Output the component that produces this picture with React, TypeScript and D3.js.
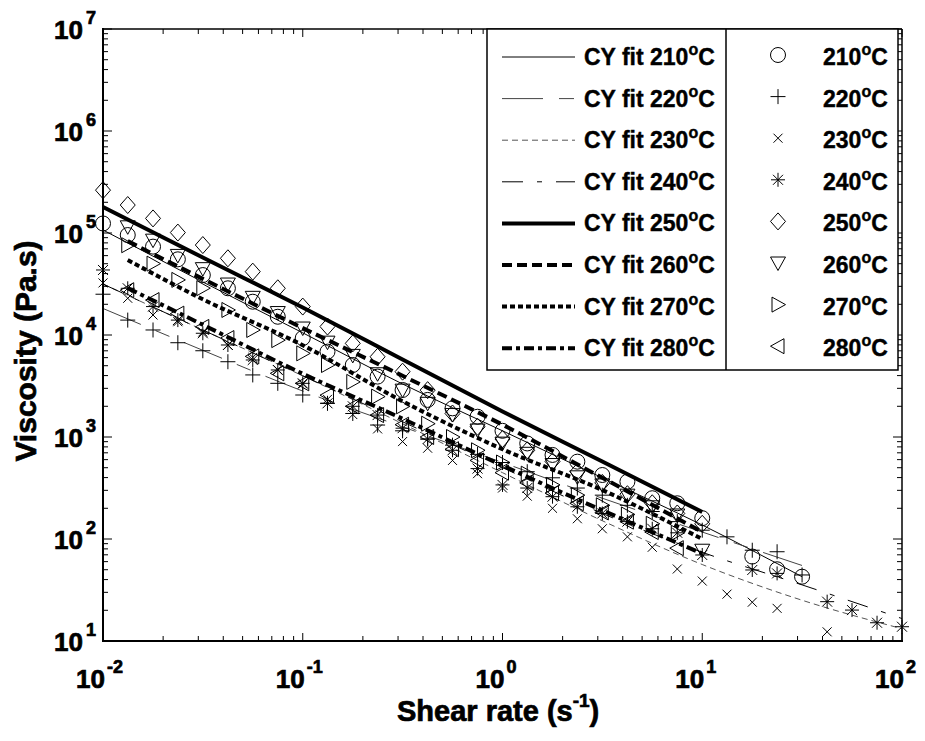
import React from "react";
import * as d3 from "d3";

// Shear rates (s^-1) of the measured points
const shearRates = [0.01, 0.0133, 0.0178, 0.0237, 0.0316, 0.0422, 0.0562, 0.075, 0.1, 0.133, 0.178, 0.237, 0.316, 0.422, 0.562, 0.75, 1, 1.33, 1.78, 2.37, 3.16, 4.22, 5.62, 7.5, 10, 13.3, 17.8, 23.7, 31.6, 42.2, 56.2, 75, 100];

// Measured viscosities (Pa.s), aligned with shearRates (null = no point)
const eta210 = [124000, 95500, 73500, 55200, 38700, 28700, 21200, 15100, 9330, 6870, 5080, 3910, 2890, 2310, 1910, 1580, 1150, 865, 667, 573, 424, 365, 251, 224, 160, null, 67.3, 50.5, 42.7, null, null, null, null];
const eta220 = [25100, 14000, 11200, 8400, 7010, 5470, 4060, 3360, 2580, 2140, 1700, 1310, 1150, 955, 832, 676, 562, 457, 398, 316, 269, 214, 186, 148, 122, 105, 77.6, 75, 44.4, null, null, null, null];
const eta230 = [32400, 22900, 15700, 13500, 10700, 7940, 6030, 4570, 3310, 2340, 1660, 1200, 902, 776, 589, 437, 316, 263, 200, 158, 126, 105, 83, 50.8, 38.7, 28.8, 24, 20.9, null, 12.3, null, null, null];
const eta240 = [43400, 28700, 19000, 14000, 10400, 7980, 5690, 4540, 3360, 2140, 2000, 1640, 1220, 955, 741, 490, 339, 316, 260, 207, 178, 148, 126, 115, 69.7, null, 49.7, 46, null, 24.3, 20.1, 15.1, 13.8];
const eta250 = [263000, 188000, 139000, 101000, 76200, 56500, 41800, 28700, 19000, 12100, 8280, 6120, 4370, 2880, 1700, 1260, 955, 741, 575, 457, 355, 275, 224, 178, 141, null, null, null, null, null, null, null, null];
const eta260 = [null, 115000, 85100, 60300, 44700, 31600, 23400, 16600, 11700, 8510, 6310, 4170, 2880, 2140, 1660, 1170, 871, 692, 537, 407, 339, 269, 207, 172, 77.6, null, null, null, null, null, null, null, null];
const eta270 = [null, 75900, 50100, 34700, 28800, 17600, 11200, 8910, 6610, 5080, 3470, 2490, 2000, 1350, 1000, 741, 562, 437, 339, 269, 214, 174, 141, 115, null, null, null, null, null, null, null, null, null];
const eta280 = [null, 27500, 22000, 16200, 12000, 9330, 6170, 4210, 3360, 2570, 2000, 1640, 1320, 1000, 759, 589, 447, 355, 282, 224, 182, 148, 117, 81.3, null, null, null, null, null, null, null, null, null];

// Cross-Yasuda (CY) fit curves
const fitShear = [0.01, 0.0316, 0.1, 0.316, 1, 3.16, 10, 31.6, 100];
const fitShearB = [0.0133, 0.0316, 0.1, 0.316, 1, 3.16, 10];
const fit210 = [107000, 33100, 10500, 3310, 1150, 398, 137, 42.7];
const fit220 = [18200, 7080, 2820, 1260, 562, 251, 117, 55];
const fit230 = [31600, 11200, 3980, 1350, 447, 151, 56.2, 25.1, 13.2];
const fit240 = [31600, 11200, 3980, 1410, 501, 178, 74.1, 35.5, 16.6];
const fit250 = [180000, 57500, 18600, 5750, 1780, 575, 184];
const fit260 = [83200, 35500, 11700, 3980, 1320, 398, 117];
const fit270 = [54300, 22400, 7940, 2240, 759, 302, 100];
const fit280 = [28800, 12600, 4170, 1510, 525, 191, 72];

const legendTemps = ["210", "220", "230", "240", "250", "260", "270", "280"];
const xTickExps = [-2, -1, 0, 1, 2];
const yTickExps = [1, 2, 3, 4, 5, 6, 7];

const W = 925, H = 741;
const L = 103, R = 902, T = 29, B = 641;
const FONT = "'Liberation Sans', Arial, Helvetica, sans-serif";

type LineStyle = { w: number; dash?: string; color: string };
const lineStyles: LineStyle[] = [
  { w: 1, color: "#000" },
  { w: 1, dash: "41 16 15 16", color: "#444" },
  { w: 1, dash: "6 4", color: "#555" },
  { w: 1, dash: "21 14 5 14", color: "#000" },
  { w: 4, color: "#000" },
  { w: 4, dash: "10 5", color: "#000" },
  { w: 4, dash: "5 3", color: "#000" },
  { w: 4, dash: "10 4 4 4", color: "#000" },
];

function Marker({ type, x, y }: { type: number; x: number; y: number }) {
  const s = { fill: "none", stroke: "#000", strokeWidth: 1 } as const;
  const t = `translate(${x},${y})`;
  switch (type) {
    case 0:
      return <circle cx={x} cy={y} r={7.5} {...s} />;
    case 1:
      return <path transform={t} d="M-7.5,0H7.5M0,-7.5V7.5" {...s} />;
    case 2:
      return <path transform={t} d="M-4.5,-4.5L4.5,4.5M-4.5,4.5L4.5,-4.5" {...s} />;
    case 3:
      return <path transform={t} d="M-7,0H7M0,-7V7M-5,-5L5,5M-5,5L5,-5" {...s} />;
    case 4:
      return <path transform={t} d="M0,-8.5L7.5,0L0,8.5L-7.5,0Z" {...s} />;
    case 5:
      return <path transform={t} d="M-7.5,-6L7.5,-6L0,7.5Z" {...s} />;
    case 6:
      return <path transform={t} d="M-6,-7.5L7.5,0L-6,7.5Z" {...s} />;
    default:
      return <path transform={t} d="M6,-7.5L-7.5,0L6,7.5Z" {...s} />;
  }
}

export default function App() {
  const x = d3.scaleLog().domain([0.01, 100]).range([L, R]);
  const y = d3.scaleLog().domain([10, 1e7]).range([B, T]);
  const line = d3
    .line<[number, number]>()
    .x((d) => x(d[0]))
    .y((d) => y(d[1]))
    .curve(d3.curveMonotoneX);

  const series = [eta210, eta220, eta230, eta240, eta250, eta260, eta270, eta280];
  const fits: [number[], number[]][] = [
    [fitShear, fit210],
    [fitShear, fit220],
    [fitShear, fit230],
    [fitShear, fit240],
    [fitShear, fit250],
    [fitShearB, fit260],
    [fitShearB, fit270],
    [fitShearB, fit280],
  ];

  const xMinor: number[] = [];
  for (let e = -2; e < 2; e++) for (let m = 2; m <= 9; m++) xMinor.push(m * Math.pow(10, e));
  const yMinor: number[] = [];
  for (let e = 1; e < 7; e++) for (let m = 2; m <= 9; m++) yMinor.push(m * Math.pow(10, e));

  const legX = 487, legR = 898, legDiv = 726, legT = 29, legB = 370;
  const rowY = (i: number) => 57 + i * 41.6;
  const heavy = { fontWeight: "bold", stroke: "#000", strokeWidth: 0.7 } as const;
  const heavyL = { fontWeight: "bold", stroke: "#000", strokeWidth: 0.4 } as const;

  return (
    <svg width={W} height={H} style={{ position: "absolute", left: 0, top: 0, background: "#fff" }} fontFamily={FONT}>
      <rect x={0} y={0} width={W} height={H} fill="#fff" />
      {/* fits */}
      {fits.map(([xs, vs], i) => (
        <path
          key={"f" + i}
          d={line(vs.map((v, j) => [xs[j], v] as [number, number])) || ""}
          fill="none"
          stroke={lineStyles[i].color}
          strokeWidth={lineStyles[i].w}
          strokeDasharray={lineStyles[i].dash}
        />
      ))}
      {/* markers */}
      {series.map((vals, i) =>
        vals.map((v, j) =>
          v == null ? null : <Marker key={`m${i}-${j}`} type={i} x={x(shearRates[j])} y={y(v)} />
        )
      )}
      {/* ticks */}
      {xTickExps.map((e) => {
        const px = x(Math.pow(10, e));
        return (
          <g key={"xt" + e}>
            <line x1={px} x2={px} y1={B} y2={B - 8} stroke="#000" />
            <line x1={px} x2={px} y1={T} y2={T + 8} stroke="#000" />
          </g>
        );
      })}
      {xMinor.map((v, i) => (
        <g key={"xm" + i}>
          <line x1={x(v)} x2={x(v)} y1={B} y2={B - 5} stroke="#000" />
          <line x1={x(v)} x2={x(v)} y1={T} y2={T + 5} stroke="#000" />
        </g>
      ))}
      {yTickExps.map((e) => {
        const py = y(Math.pow(10, e));
        return (
          <g key={"yt" + e}>
            <line x1={L} x2={L + 9} y1={py} y2={py} stroke="#000" />
            <line x1={R} x2={R - 9} y1={py} y2={py} stroke="#000" />
          </g>
        );
      })}
      {yMinor.map((v, i) => (
        <g key={"ym" + i}>
          <line x1={L} x2={L + 5} y1={y(v)} y2={y(v)} stroke="#000" />
          <line x1={R} x2={R - 5} y1={y(v)} y2={y(v)} stroke="#000" />
        </g>
      ))}
      {/* frame */}
      <line x1={L} x2={R} y1={T} y2={T} stroke="#000" strokeWidth={1.5} />
      <line x1={R} x2={R} y1={T} y2={B} stroke="#000" strokeWidth={1.5} />
      <line x1={L} x2={L} y1={T - 1} y2={B + 1} stroke="#000" strokeWidth={2} />
      <line x1={L - 1} x2={R + 1} y1={B} y2={B} stroke="#000" strokeWidth={2} />

      {/* x tick labels */}
      {xTickExps.map((e) => {
        const px = x(Math.pow(10, e));
        return (
          <g key={"xg" + e}>
            <text x={px + 2} y={688} {...heavy} fontSize={26} textAnchor="end">10</text>
            <text x={px + 4} y={673} {...heavy} fontSize={18}>{e}</text>
          </g>
        );
      })}
      {/* y tick labels */}
      {yTickExps.map((e) => {
        const py = y(Math.pow(10, e));
        return (
          <g key={"yl" + e}>
            <text x={83} y={py + 10} {...heavy} fontSize={26} textAnchor="end">10</text>
            <text x={86} y={py - 5} {...heavy} fontSize={18}>{e}</text>
          </g>
        );
      })}
      {/* axis titles */}
      <text x={397} y={721} {...heavy} fontSize={29}>
        Shear rate (s<tspan dy={-14} fontSize={19}>-1</tspan><tspan dy={14}>)</tspan>
      </text>
      <text
        transform={`translate(36,351) rotate(-90)`}
        {...heavy}
        fontSize={30}
        textAnchor="middle"
      >
        Viscosity (Pa.s)
      </text>

      {/* legend */}
      <rect x={legX} y={legT} width={legR - legX} height={legB - legT} fill="#fff" stroke="#000" strokeWidth={1.5} />
      <line x1={legDiv} x2={legDiv} y1={legT} y2={legB} stroke="#000" strokeWidth={1.5} />
      {legendTemps.map((t, i) => {
        const ry = rowY(i);
        const st = lineStyles[i];
        return (
          <g key={"lg" + i}>
            <line x1={502} x2={575} y1={ry} y2={ry} stroke={st.color} strokeWidth={st.w} strokeDasharray={st.dash} />
            <text x={584} y={ry + 8} {...heavyL} fontSize={23}>
              CY fit {t}
              <tspan dy={-10} fontSize={16}>o</tspan>
              <tspan dy={10}>C</tspan>
            </text>
            <Marker type={i} x={778} y={ry - 2} />
            <text x={823} y={ry + 8} {...heavyL} fontSize={23}>
              {t}
              <tspan dy={-10} fontSize={16}>o</tspan>
              <tspan dy={10}>C</tspan>
            </text>
          </g>
        );
      })}
    </svg>
  );
}
